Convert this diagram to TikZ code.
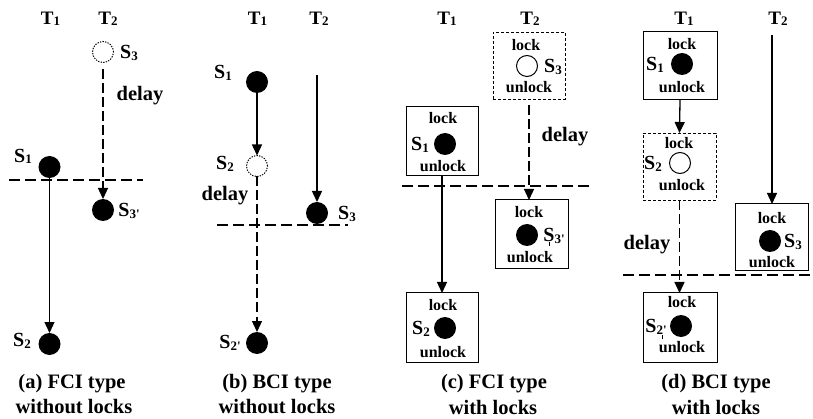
\documentclass[tikz,border=0pt]{standalone}
\usepackage{fontspec}
\setmainfont{Liberation Serif}
\usetikzlibrary{arrows.meta}
\newcommand\sbs[1]{\raisebox{-0.08em}{\fontsize{13}{13}\selectfont #1}}
\newcommand\prm{\textquotesingle}
\begin{document}
\begin{tikzpicture}[x=1pt,y=-1pt,
  every node/.style={inner sep=0pt,outer sep=0pt},
  tlab/.style={font=\bfseries\fontsize{19}{19}\selectfont},
  slab/.style={font=\bfseries\fontsize{20}{20}\selectfont},
  dlab/.style={font=\bfseries\fontsize{20.5}{20.5}\selectfont},
  lk/.style={font=\bfseries\fontsize{16}{16}\selectfont},
  capt/.style={font=\bfseries\fontsize{20.5}{21}\selectfont},
  fdot/.style={circle,fill=black,minimum size=22pt},
  odot/.style={circle,draw=black,line width=1pt,minimum size=21pt},
  ddot/.style={circle,draw=black,line width=1pt,dash pattern=on 1.3pt off 1.3pt,minimum size=21pt},
  sbox/.style={draw=black,line width=1pt,minimum width=72pt,minimum height=69pt},
  dbox/.style={draw=black,line width=0.9pt,dash pattern=on 3pt off 2pt,minimum width=72pt,minimum height=67pt},
  arr/.style={line width=1.3pt,-{Triangle[length=11pt,width=10pt]}},
  darr/.style={arr,dash pattern=on 10pt off 4pt},
  hdash/.style={line width=1.3pt,dash pattern=on 11pt off 5pt},
  tick/.style={line width=0.6pt},
]
\useasboundingbox (0,0) rectangle (813,419);

% ---------- panel (a)
\node[tlab] (aT1) at (50.5,19) {T\sbs{1}};
\node[tlab] (aT2) at (108,19) {T\sbs{2}};
\node[ddot] (aS3) at (103,52) {};
\node[slab] (aS3l) at (129,53) {S\sbs{3}};
\node[dlab] (ad) at (140,96) {delay};
\node[fdot] (aS1) at (49.5,167) {};
\node[slab] (aS1l) at (23,156.5) {S\sbs{1}};
\node[fdot] (aS3p) at (103,210) {};
\node[slab] (aS3pl) at (129,211) {S\sbs{3\prm}};
\node[fdot] (aS2) at (49.5,344) {};
\node[slab] (aS2l) at (22,341) {S\sbs{2}};
\coordinate (ah1) at (9,180);
\coordinate (ah2) at (143,180);
\draw[hdash] (ah1) -- (ah2);
\draw[arr] (aS1) -- (aS2);
\draw[darr,shorten <=7pt] (aS3) -- (aS3p);
\node[capt] (acap1) at (72,384) {(a) FCI type};
\node[capt] (acap2) at (74,407) {without locks};

% ---------- panel (b)
\node[tlab] (bT1) at (257.5,19) {T\sbs{1}};
\node[tlab] (bT2) at (319,19) {T\sbs{2}};
\node[fdot] (bS1) at (257,82) {};
\node[slab] (bS1l) at (223,73) {S\sbs{1}};
\node[ddot] (bS2) at (257,166) {};
\node[slab] (bS2l) at (225,164) {S\sbs{2}};
\coordinate (bT2s) at (317,75);
\node[fdot] (bS3) at (317,213) {};
\node[slab] (bS3l) at (347,214) {S\sbs{3}};
\node[dlab] (bd) at (225,196) {delay};
\node[fdot] (bS2p) at (257,343) {};
\node[slab] (bS2pl) at (230,343) {S\sbs{2\prm}};
\coordinate (bh1) at (217,225);
\coordinate (bh2) at (348,225);
\draw[hdash] (bh1) -- (bh2);
\draw[arr] (bS1) -- (bS2);
\draw[arr] (bT2s) -- (bS3);
\draw[darr] (bS2) -- (bS2p);
\node[capt] (bcap1) at (277,384) {(b) BCI type};
\node[capt] (bcap2) at (277,407) {without locks};

% ---------- panel (c)
\node[tlab] (cT1) at (447,19) {T\sbs{1}};
\node[tlab] (cT2) at (530,19) {T\sbs{2}};
\node[dbox] (cB3) at (529,65.5) {};
\node[lk] (cB3a) at (526,45) {lock};
\node[odot] (cS3) at (527,66) {};
\node[slab] (cS3l) at (553,67) {S\sbs{3}};
\node[lk] (cB3b) at (529,87) {unlock};

\node[sbox] (cB1) at (442,141.5) {};
\node[lk] (cB1a) at (443,118) {lock};
\node[fdot] (cS1) at (445,144) {};
\node[slab] (cS1l) at (420,145) {S\sbs{1}};
\node[lk] (cB1b) at (443,166) {unlock};

\node[sbox,minimum width=73pt] (cB3p) at (531.5,234.5) {};
\node[lk] (cB3pa) at (529,212) {lock};
\node[fdot] (cS3p) at (527,235) {};
\node[slab] (cS3pl) at (554,236) {S\sbs{3\prm}};
\node[lk] (cB3pb) at (530,257) {unlock};
\coordinate (ct1) at (549,242);
\coordinate (ct2) at (549,246);
\draw[tick] (ct1) -- (ct2);

\node[sbox] (cB2) at (442,327.5) {};
\node[lk] (cB2a) at (443,305) {lock};
\node[fdot] (cS2) at (445,328) {};
\node[slab] (cS2l) at (421,329) {S\sbs{2}};
\node[lk] (cB2b) at (443,352) {unlock};

\coordinate (ch1) at (402,186);
\coordinate (ch2) at (590,186);
\draw[hdash] (ch1) -- (ch2);
\draw[arr] (cB1.south) -- (cB2.north);
\draw[darr,shorten <=6pt] (cB3.south) -- (cB3.south |- cB3p.north);
\node[dlab] (cd) at (565,137) {delay};
\node[capt] (ccap1) at (494,384) {(c) FCI type};
\node[capt] (ccap2) at (493,407) {with locks};

% ---------- panel (d)
\node[tlab] (dT1) at (684,19) {T\sbs{1}};
\node[tlab] (dT2) at (778,19) {T\sbs{2}};
\node[sbox,minimum width=74pt,minimum height=68pt] (dB1) at (680,66) {};
\node[lk] (dB1a) at (682,44) {lock};
\node[fdot] (dS1) at (682,64) {};
\node[slab] (dS1l) at (655,65) {S\sbs{1}};
\node[lk] (dB1b) at (682,87) {unlock};

\node[dbox,minimum width=73pt] (dB2) at (679.5,166.5) {};
\node[lk] (dB2a) at (679,143) {lock};
\node[odot] (dS2) at (680,163) {};
\node[slab] (dS2l) at (653,164) {S\sbs{2}};
\node[lk] (dB2b) at (682,185) {unlock};

\node[sbox,minimum width=73pt,minimum height=67pt] (dB3) at (771.5,237.5) {};
\node[lk] (dB3a) at (772,218) {lock};
\node[fdot] (dS3) at (770,241) {};
\node[slab] (dS3l) at (793,242) {S\sbs{3}};
\node[lk] (dB3b) at (772,262) {unlock};

\node[sbox,minimum width=74pt] (dB2p) at (680,327.5) {};
\node[lk] (dB2pa) at (682,302) {lock};
\node[fdot] (dS2p) at (681,326) {};
\node[slab] (dS2pl) at (656,327) {S\sbs{2\prm}};
\node[lk] (dB2pb) at (682,347) {unlock};
\coordinate (dt1) at (662,335);
\coordinate (dt2) at (662,339);
\draw[tick] (dt1) -- (dt2);

\coordinate (dT2s) at (772,35);
\coordinate (dh1) at (623,275);
\coordinate (dh2) at (813,275);
\draw[hdash] (dh1) -- (dh2);
\draw[arr] (dB1.south) -- (dB2.north);
\draw[arr] (dT2s) -- (dT2s |- dB3.north);
\draw[darr] (dB2.south) -- (dB2.south |- dB2p.north);
\node[dlab] (dd) at (647,245) {delay};
\node[capt] (dcap1) at (716,384) {(d) BCI type};
\node[capt] (dcap2) at (716,407) {with locks};
\end{tikzpicture}
\end{document}
